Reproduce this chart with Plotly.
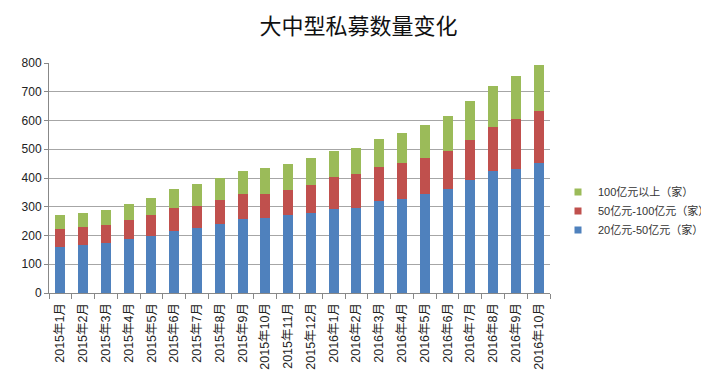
import plotly.graph_objects as go

months = ["2015年1月", "2015年2月", "2015年3月", "2015年4月", "2015年5月", "2015年6月",
          "2015年7月", "2015年8月", "2015年9月", "2015年10月", "2015年11月", "2015年12月",
          "2016年1月", "2016年2月", "2016年3月", "2016年4月", "2016年5月", "2016年6月",
          "2016年7月", "2016年8月", "2016年9月", "2016年10月"]
s_20_50 = [161, 166, 173, 187, 197, 216, 225, 239, 258, 260, 270, 279,
           292, 296, 319, 326, 346, 361, 394, 423, 432, 451]
s_50_100 = [63, 62, 62, 66, 73, 79, 79, 86, 86, 84, 87, 98,
            110, 118, 120, 127, 122, 134, 138, 154, 172, 182]
s_100_plus = [46, 52, 54, 58, 60, 66, 75, 75, 79, 91, 91, 91,
              91, 91, 98, 105, 117, 121, 135, 142, 151, 160]
names = ["20亿元-50亿元（家）", "50亿元-100亿元（家）", "100亿元以上（家）"]
colors = ["#4F81BD", "#C0504D", "#9BBB59"]

font_family = "Liberation Sans, Noto Sans CJK SC, sans-serif"

# page body has an 8px margin, so the figure is drawn 8px smaller
W, H = 701, 369
L, T, B, R = 41, 55, 84, 159
plot_w = W - L - R
plot_h = H - T - B

fig = go.Figure()
for name, vals, col in zip(names, [s_20_50, s_50_100, s_100_plus], colors):
    fig.add_trace(go.Bar(x=months, y=vals, name=name, marker_color=col,
                         marker_line_width=0, showlegend=False))
# legend entries with small square markers
for i, (name, col) in enumerate(zip(names, colors)):
    fig.add_trace(go.Scatter(x=[None], y=[None], mode="markers", name=name,
                             legendgroup="g%d" % i,
                             marker=dict(symbol="square", size=7, color=col),
                             showlegend=True))

fig.update_layout(
    barmode="stack",
    bargap=0.56,
    width=W, height=H,
    margin=dict(l=L, r=R, t=T, b=B, autoexpand=False),
    paper_bgcolor="white", plot_bgcolor="white",
    title=dict(text="大中型私募数量变化", x=0.5, xanchor="center",
               y=1 - 18 / H, yanchor="middle", yref="container",
               font=dict(family="Noto Sans CJK SC, sans-serif", size=22, color="#111111")),
    legend=dict(traceorder="reversed",
                x=(550 - L) / plot_w, y=(285 - 203) / plot_h,
                xanchor="left", yanchor="middle",
                font=dict(family=font_family, size=11, color="#333333"),
                itemwidth=30, tracegroupgap=3),
    showlegend=True,
)
fig.update_xaxes(
    type="category", tickangle=-90, tickson="boundaries",
    ticks="outside", ticklen=5, tickcolor="#888888",
    showline=True, linecolor="#888888", linewidth=1,
    tickfont=dict(family=font_family, size=12.5, color="#222222"),
    ticklabelstandoff=4,
    showgrid=False, automargin=False,
)
fig.update_yaxes(
    range=[0, 800], dtick=100,
    showgrid=True, gridcolor="#A6A6A6", gridwidth=1.2,
    showline=True, linecolor="#888888", linewidth=1,
    ticks="outside", ticklen=4, tickcolor="#888888",
    tickfont=dict(family=font_family, size=12, color="#222222"),
    zeroline=False, automargin=False,
)

fig.write_html("out.html")
